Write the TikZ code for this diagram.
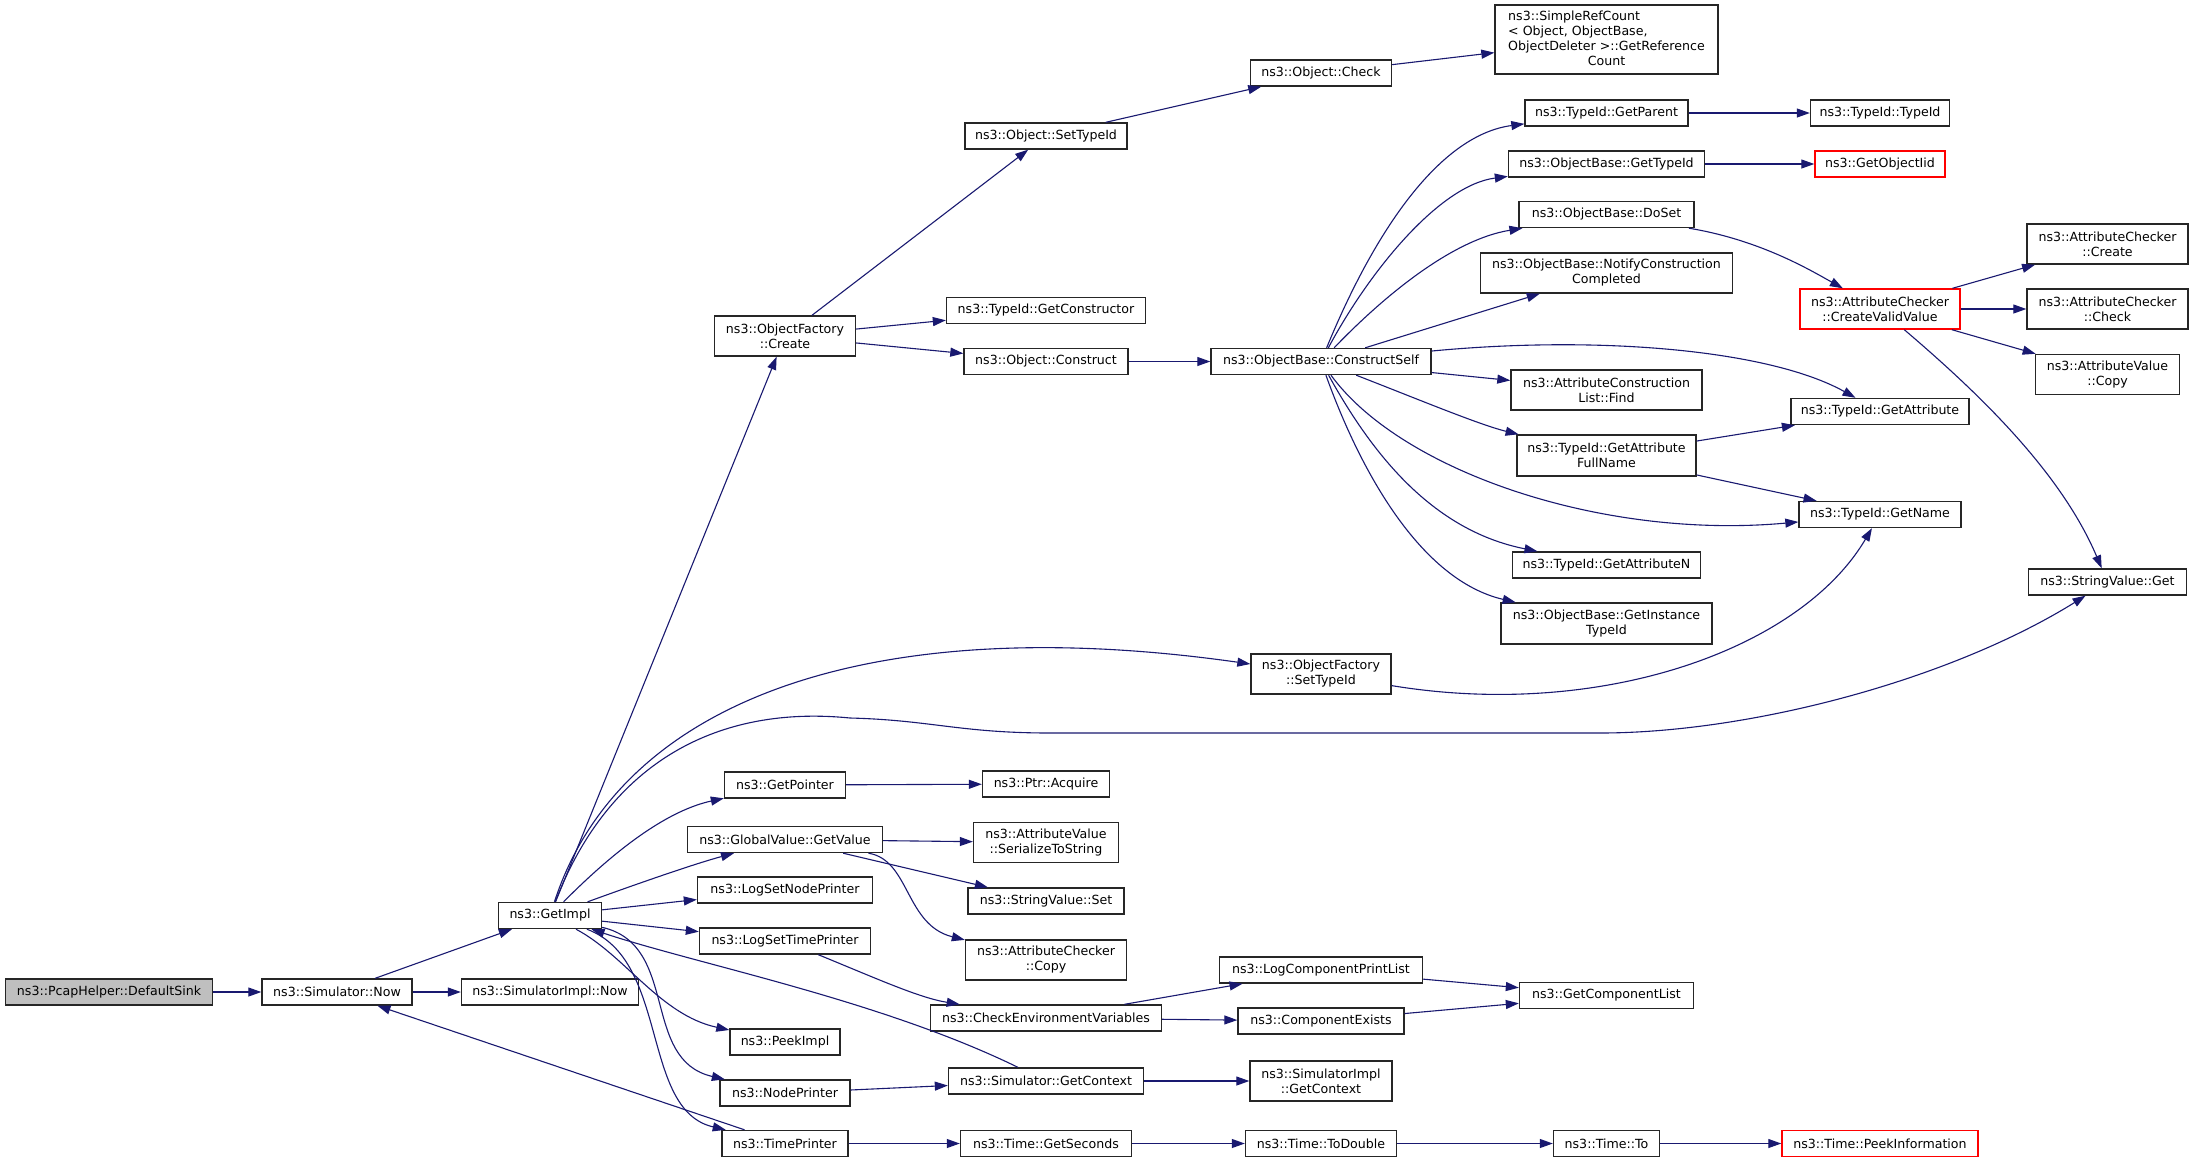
\documentclass[tikz,border=0pt]{standalone}
\usepackage{fontspec}
\setmainfont{DejaVu Sans}
\usetikzlibrary{arrows.meta}

\definecolor{midnight}{RGB}{25,25,112}
\definecolor{grey75}{RGB}{191,191,191}

\tikzset{
	func/.style={draw=black!85, line width=1.4pt, fill=white, inner sep=0pt, minimum height=26pt, align=center, font=\fontsize{12.6}{15}\selectfont},
	functwo/.style={func, minimum height=40pt},
	rootfunc/.style={func, fill=grey75},
	nodocfunc/.style={draw=red},
	call/.style={-{Triangle[length=13pt,width=9pt]}, midnight, line width=1.1pt},
}

\begin{document}
\begin{tikzpicture}[x=1pt,y=-1pt]
	\fill[white] (0,0) rectangle (2195,1163);
	\useasboundingbox (0,0) rectangle (2195,1163);
	%
	%  CALLERS AND FIRST LEVELS
	%
	\node[rootfunc, minimum width=207pt] (sink) at (109,992) {ns3::PcapHelper::DefaultSink};
	\node[func, minimum width=150pt] (now) at (337,992) {ns3::Simulator::Now};
	\node[func, minimum width=177pt] (implnow) at (550,992) {ns3::SimulatorImpl::Now};
	\node[func, minimum width=103pt] (getimpl) at (550,915.5) {ns3::GetImpl};
	%
	%  COLUMN OF GETIMPL CALLEES
	%
	\node[functwo, minimum width=141pt] (ofcreate) at (785,336) {ns3::ObjectFactory\\::Create};
	\node[func, minimum width=121pt] (getptr) at (785,785) {ns3::GetPointer};
	\node[func, minimum width=195pt] (getvalue) at (785,839.5) {ns3::GlobalValue::GetValue};
	\node[func, minimum width=175pt] (setnodeprn) at (785,890) {ns3::LogSetNodePrinter};
	\node[func, minimum width=171pt] (settimeprn) at (785,941) {ns3::LogSetTimePrinter};
	\node[func, minimum width=110pt] (peekimpl) at (785,1042) {ns3::PeekImpl};
	\node[func, minimum width=130pt] (nodeprn) at (785,1093) {ns3::NodePrinter};
	\node[func, minimum width=126pt] (timeprn) at (785,1143.5) {ns3::TimePrinter};
	%
	%  NEXT COLUMN
	%
	\node[func, minimum width=162pt] (objsettype) at (1046,136) {ns3::Object::SetTypeId};
	\node[func, minimum width=199pt] (getctor) at (1046,310.5) {ns3::TypeId::GetConstructor};
	\node[func, minimum width=164pt] (construct) at (1046,361.5) {ns3::Object::Construct};
	\node[func, minimum width=127pt] (acquire) at (1046,784) {ns3::Ptr::Acquire};
	\node[functwo, minimum width=145pt] (serialize) at (1046,842.5) {ns3::AttributeValue\\::SerializeToString};
	\node[func, minimum width=156pt] (svset) at (1046,901) {ns3::StringValue::Set};
	\node[functwo, minimum width=161pt] (accopy) at (1046,960) {ns3::AttributeChecker\\::Copy};
	\node[func, minimum width=231pt] (envvars) at (1046,1018) {ns3::CheckEnvironmentVariables};
	\node[func, minimum width=195pt] (getctx) at (1046,1081) {ns3::Simulator::GetContext};
	\node[func, minimum width=171pt] (seconds) at (1046,1143.5) {ns3::Time::GetSeconds};
	%
	%  MIDDLE COLUMN
	%
	\node[func, minimum width=141pt] (check) at (1321,73) {ns3::Object::Check};
	\node[func, minimum width=220pt] (cself) at (1321,361.5) {ns3::ObjectBase::ConstructSelf};
	\node[functwo, minimum width=140pt] (ofsettype) at (1321,674) {ns3::ObjectFactory\\::SetTypeId};
	\node[func, minimum width=203pt] (printlist) at (1321,970) {ns3::LogComponentPrintList};
	\node[func, minimum width=166pt] (exists) at (1321,1021) {ns3::ComponentExists};
	\node[functwo, minimum width=142pt] (implctx) at (1321,1081) {ns3::SimulatorImpl\\::GetContext};
	\node[func, minimum width=151pt] (todouble) at (1321,1143.5) {ns3::Time::ToDouble};
	%
	%  CONSTRUCTSELF CALLEES
	%
	\node[func, minimum width=223pt, minimum height=69pt] (refcount) at (1606.5,39.5) {\begin{tabular}{@{}l@{}}ns3::SimpleRefCount\\< Object, ObjectBase,\\\multicolumn{1}{@{}c@{}}{ObjectDeleter >::GetReference}\\\multicolumn{1}{@{}c@{}}{Count}\end{tabular}};
	\node[func, minimum width=163pt] (getparent) at (1606.5,113) {ns3::TypeId::GetParent};
	\node[func, minimum width=196pt] (gettypeid) at (1606.5,164) {ns3::ObjectBase::GetTypeId};
	\node[func, minimum width=175pt] (doset) at (1606.5,214.5) {ns3::ObjectBase::DoSet};
	\node[functwo, minimum width=252pt] (notify) at (1606.5,273) {ns3::ObjectBase::NotifyConstruction\\Completed};
	\node[functwo, minimum width=191pt] (find) at (1606.5,390) {ns3::AttributeConstruction\\List::Find};
	\node[functwo, minimum width=179pt, minimum height=41pt] (fullname) at (1606.5,455.5) {ns3::TypeId::GetAttribute\\FullName};
	\node[func, minimum width=188pt] (attrn) at (1606.5,565) {ns3::TypeId::GetAttributeN};
	\node[functwo, minimum width=211pt, minimum height=41pt] (insttype) at (1606.5,623.5) {ns3::ObjectBase::GetInstance\\TypeId};
	\node[func, minimum width=174pt] (complist) at (1606.5,995.5) {ns3::GetComponentList};
	\node[func, minimum width=106pt] (timeto) at (1606.5,1143.5) {ns3::Time::To};
	%
	%  RIGHT COLUMNS
	%
	\node[func, minimum width=139pt] (typeid) at (1880,113) {ns3::TypeId::TypeId};
	\node[func, nodocfunc, minimum width=130pt] (objiid) at (1880,164) {ns3::GetObjectIid};
	\node[functwo, nodocfunc, minimum width=160pt] (validval) at (1880,309) {ns3::AttributeChecker\\::CreateValidValue};
	\node[func, minimum width=178pt] (getattr) at (1880,411.5) {ns3::TypeId::GetAttribute};
	\node[func, minimum width=162pt] (getname) at (1880,514.5) {ns3::TypeId::GetName};
	\node[func, nodocfunc, minimum width=196pt] (peekinfo) at (1880,1143.5) {ns3::Time::PeekInformation};
	\node[functwo, minimum width=161pt] (accreate) at (2107.5,244) {ns3::AttributeChecker\\::Create};
	\node[functwo, minimum width=161pt] (accheck) at (2107.5,309) {ns3::AttributeChecker\\::Check};
	\node[functwo, minimum width=144pt] (avcopy) at (2107.5,374.5) {ns3::AttributeValue\\::Copy};
	\node[func, minimum width=158pt] (svget) at (2107.5,582) {ns3::StringValue::Get};
	%
	%  STRAIGHT CALLS
	%
	\path[call]
	(sink) edge (now)
	(now) edge (getimpl)
	(now) edge (implnow)
	(getimpl) edge (ofcreate)
	(getimpl) edge (setnodeprn)
	(getimpl) edge (settimeprn)
	(timeprn) edge (now)
	(ofcreate) edge (objsettype)
	(ofcreate) edge (getctor)
	(ofcreate) edge (construct)
	(objsettype) edge (check)
	(check) edge (refcount)
	(construct) edge (cself)
	(cself) edge (notify)
	(cself) edge (find)
	(getparent) edge (typeid)
	(gettypeid) edge (objiid)
	(validval) edge (accreate)
	(validval) edge (accheck)
	(validval) edge (avcopy)
	(fullname) edge (getattr)
	(fullname) edge (getname)
	(getptr) edge (acquire)
	(getvalue) edge (serialize)
	(getvalue) edge (svset)
	(envvars) edge (printlist)
	(envvars) edge (exists)
	(printlist) edge (complist)
	(exists) edge (complist)
	(nodeprn) edge (getctx)
	(getctx) edge (implctx)
	(timeprn) edge (seconds)
	(seconds) edge (todouble)
	(todouble) edge (timeto)
	(timeto) edge (peekinfo);
	%
	%  CURVED CALLS FROM GETIMPL
	%
	\draw[call] (getimpl) .. controls (620,700) and (870,610) .. (ofsettype);
	\draw[call] (getimpl) .. controls (610,760) and (720,705) .. (850,718)
		.. controls (930,720) and (960,733) .. (1050,733) -- (1600,733)
		.. controls (1750,733) and (1950,680) .. (svget);
	\draw[call] (getimpl) .. controls (620,845) and (670,810) .. (getptr);
	\draw[call] (getimpl) .. controls (620,890) and (690,865) .. (getvalue);
	\draw[call] (getimpl) .. controls (625,955) and (660,1015) .. (peekimpl);
	\draw[call] (getimpl) .. controls (680,945) and (640,1060) .. (nodeprn);
	\draw[call] (getimpl) .. controls (670,960) and (640,1110) .. (timeprn);
	\draw[call] (getctx) .. controls (880,1000) and (700,965) .. (getimpl);
	%
	%  CURVED CALLS FROM CONSTRUCTSELF
	%
	\draw[call] (cself) .. controls (1375,230) and (1440,135) .. (getparent);
	\draw[call] (cself) .. controls (1370,270) and (1440,185) .. (gettypeid);
	\draw[call] (cself) .. controls (1380,300) and (1450,240) .. (doset);
	\draw[call] (cself) .. controls (1600,335) and (1770,350) .. (getattr);
	\draw[call] (cself) .. controls (1420,400) and (1480,425) .. (fullname);
	\draw[call] (cself) .. controls (1400,470) and (1600,540) .. (getname);
	\draw[call] (cself) .. controls (1370,450) and (1430,530) .. (attrn);
	\draw[call] (cself) .. controls (1360,470) and (1420,580) .. (insttype);
	%
	%  OTHER CURVES
	%
	\draw[call] (doset) .. controls (1760,240) and (1810,270) .. (validval);
	\draw[call] (validval) .. controls (1975,390) and (2060,470) .. (svget);
	\draw[call] (ofsettype) .. controls (1600,720) and (1800,650) .. (getname);
	\draw[call] (getvalue) .. controls (910,860) and (905,925) .. (accopy);
	\draw[call] (settimeprn) .. controls (880,980) and (920,998) .. (envvars);
\end{tikzpicture}
\end{document}
